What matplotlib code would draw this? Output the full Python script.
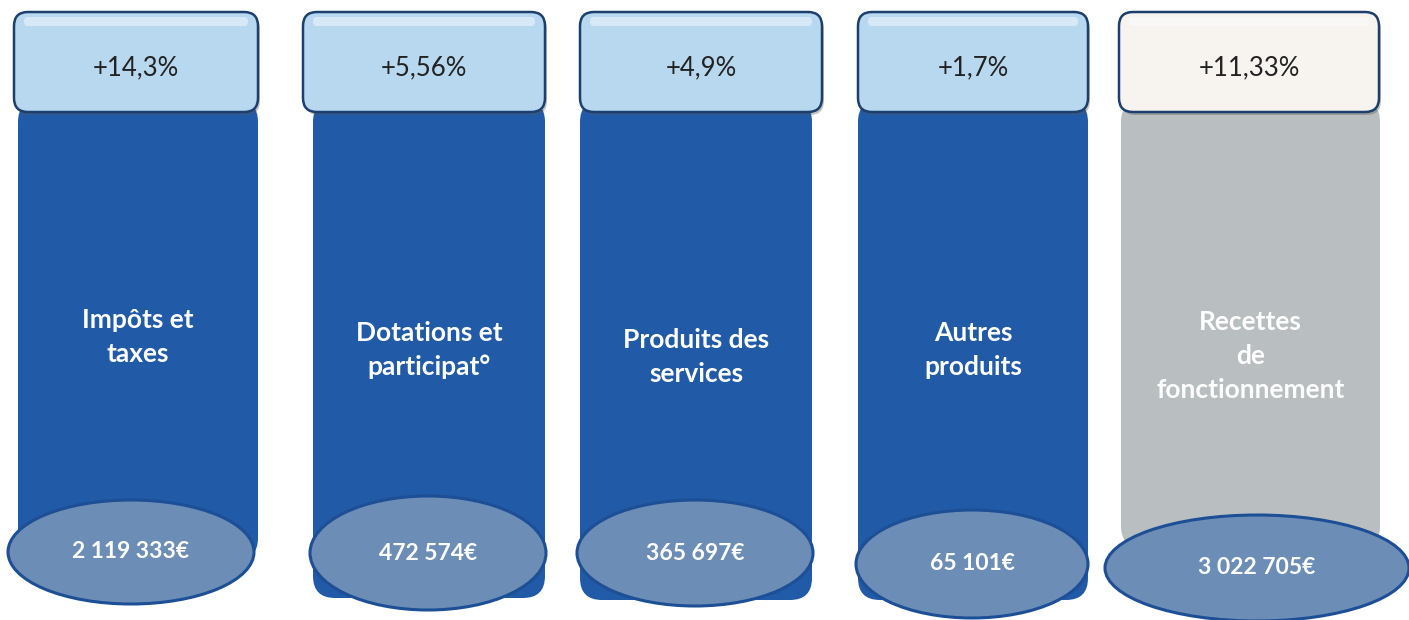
import matplotlib
matplotlib.use('Agg')
import matplotlib.pyplot as plt
from matplotlib.patches import FancyBboxPatch, Ellipse

# donnees
categories = ['Impôts et\ntaxes', 'Dotations et\nparticipat°', 'Produits des\nservices',
              'Autres\nproduits', 'Recettes\nde\nfonctionnement']
evolution = ['+14,3%', '+5,56%', '+4,9%', '+1,7%', '+11,33%']
montants = [2119333, 472574, 365697, 65101, 3022705]

# mise en page (pixels)
box_x = [14, 303, 580, 858, 1119]
box_w = [244, 242, 242, 230, 260]
body_x = [18, 313, 580, 858, 1121]
body_w = [240, 232, 232, 230, 259]
body_bot = [560, 598, 600, 600, 548]
ell_c = [(131, 552), (428, 553), (695, 553), (972, 564), (1257, 568)]
ell_w = [246, 236, 236, 232, 304]
ell_h = [104, 114, 106, 108, 106]
lab_y = [337, 350, 357, 350, 356]

blue = '#215aa6'
gray = '#b9bfc1'

plt.rcParams['font.family'] = ['Lato', 'DejaVu Sans']
fig = plt.figure(figsize=(14.09, 6.2), dpi=100)
ax = fig.add_axes([0, 0, 1, 1])
ax.set_xlim(0, 1409)
ax.set_ylim(620, 0)
ax.axis('off')

for i in range(5):
    last = (i == 4)
    # corps
    body = FancyBboxPatch((body_x[i], 100), body_w[i], body_bot[i] - 100,
                          boxstyle='round,pad=0,rounding_size=22',
                          fc=gray if last else blue, ec='none', zorder=1)
    ax.add_patch(body)
    # ombre du cadre
    ax.add_patch(FancyBboxPatch((box_x[i] + 2, 15), box_w[i], 100,
                                boxstyle='round,pad=0,rounding_size=14',
                                fc='#555555', ec='none', alpha=0.35, zorder=2))
    # cadre du haut
    top = FancyBboxPatch((box_x[i], 12), box_w[i], 100,
                         boxstyle='round,pad=0,rounding_size=14',
                         fc='#f7f3ef' if last else '#b8d8f0',
                         ec='#1c3f6e', lw=1.8, zorder=3)
    ax.add_patch(top)
    ax.add_patch(FancyBboxPatch((box_x[i] + 10, 17), box_w[i] - 20, 9,
                                boxstyle='round,pad=0,rounding_size=4',
                                fc='white', ec='none', alpha=0.45, zorder=3))
    ax.text(box_x[i] + box_w[i] / 2, 68, evolution[i], ha='center', va='center',
            fontsize=18.5, color='#222222', zorder=4)
    # libelle
    ax.text(body_x[i] + body_w[i] / 2, lab_y[i], categories[i], ha='center', va='center',
            fontsize=19, fontweight='bold', color='white', linespacing=1.5, zorder=4)
    # ellipse du bas
    ell = Ellipse(ell_c[i], ell_w[i], ell_h[i], fc='#6c8db5', ec='#1d4f96', lw=2.2, zorder=5)
    ax.add_patch(ell)
    txt = f'{montants[i]:,}'.replace(',', ' ') + '€'
    ax.text(ell_c[i][0], ell_c[i][1], txt, ha='center', va='center',
            fontsize=16.5, fontweight='bold', color='white', zorder=6)

fig.savefig('out.png', dpi=100)
